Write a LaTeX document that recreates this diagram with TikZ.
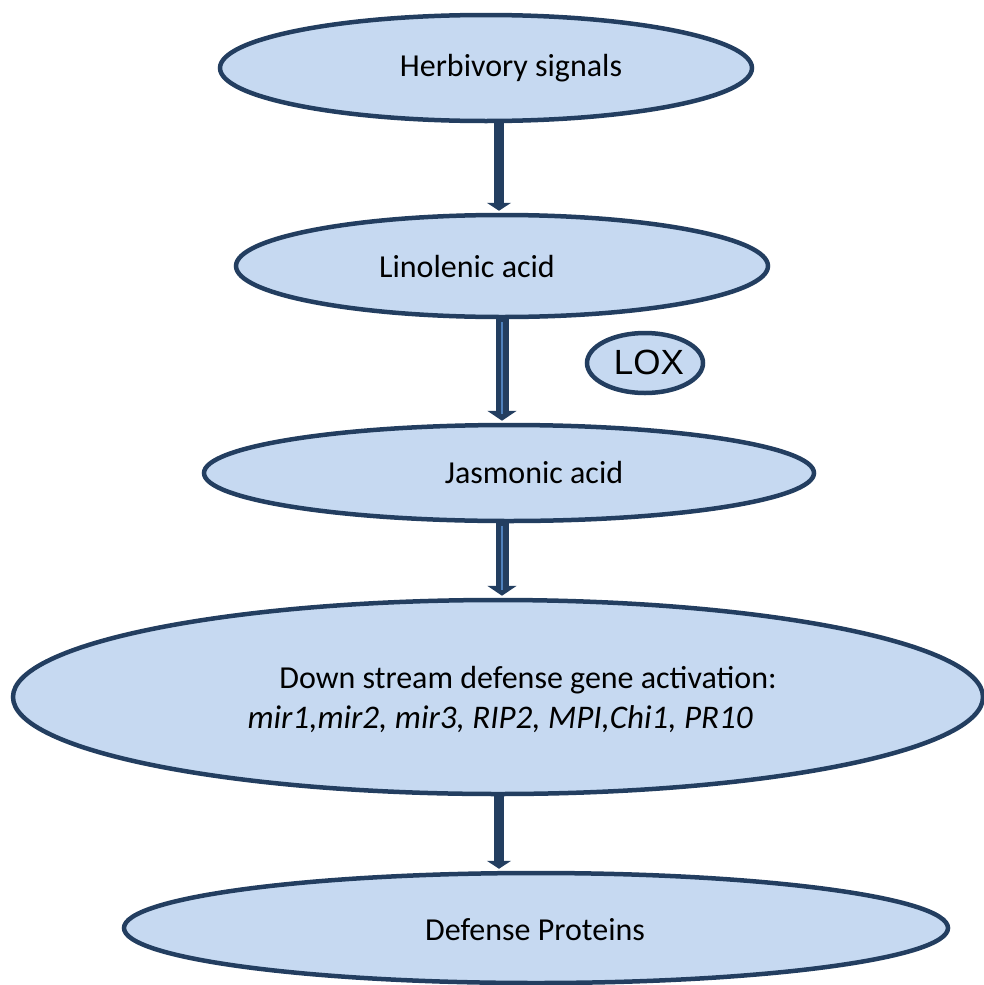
\documentclass[tikz,border=0pt]{standalone}
\usepackage{fontspec}
\setmainfont{Carlito}
\newfontfamily\arialfont{Liberation Sans}
\usetikzlibrary{shapes.geometric,arrows.meta}
\definecolor{fillblue}{HTML}{C6D9F1}
\definecolor{edgenavy}{HTML}{233E60}
\definecolor{stripe}{HTML}{4F81BD}
\begin{document}
\begin{tikzpicture}[x=1pt,y=-1pt,
  oval/.style={ellipse,draw=edgenavy,fill=fillblue,line width=4.5pt,inner sep=0pt},
  lbl/.style={font=\fontsize{32}{38}\selectfont,inner sep=0pt,anchor=center},
  flow/.style={draw=edgenavy,line width=9.5pt,-{Triangle[width=24pt,length=8pt]}},
  flowB/.style={draw=edgenavy,line width=13pt,-{Triangle[width=29pt,length=10pt]}},
  inner/.style={draw=stripe,line width=2.5pt}]
\useasboundingbox (0,0) rectangle (984,985);
\node[oval,minimum width=532pt,minimum height=106pt] (h) at (486,68) {};
\node[oval,minimum width=532pt,minimum height=102pt] (l) at (502,266) {};
\node[oval,minimum width=116pt,minimum height=60pt] (lox) at (645,363) {};
\node[oval,minimum width=610pt,minimum height=96pt] (j) at (509,473) {};
\node[oval,minimum width=970pt,minimum height=194pt] (d) at (498,697) {};
\node[oval,minimum width=824pt,minimum height=110pt] (p) at (536,928) {};

\node[lbl] (th) at (511,68) {Herbivory signals};
\node[lbl] (tl) at (467,267) {Linolenic acid};
\node[font=\arialfont\fontsize{35}{40}\selectfont,inner sep=0pt] (tlox) at (649,362) {LOX};
\node[lbl] (tj) at (534,473) {Jasmonic acid};
\node[lbl] (td1) at (528,680) {Down stream defense gene activation:};
\node[lbl,font=\fontsize{33}{39}\selectfont\itshape] (td2) at (500,719) {mir1,mir2, mir3, RIP2, MPI,Chi1, PR10};
\node[lbl] (tp) at (535,930) {Defense Proteins};

\draw[flow] (499,0 |- h.south) -- ([yshift=2pt]499,0 |- l.north);
\draw[flowB] (502,0 |- l.south) -- ([yshift=2pt]502,0 |- j.north);
\draw[inner] (502,0 |- l.south) ++(0,3) -- (502,414);
\draw[flowB] (502,0 |- j.south) -- ([yshift=2pt]502,0 |- d.north);
\draw[inner] (502,0 |- j.south) ++(0,3) -- (502,590);
\draw[flow] (499,0 |- d.south) -- ([yshift=2pt]499,0 |- p.north);
\end{tikzpicture}
\end{document}
